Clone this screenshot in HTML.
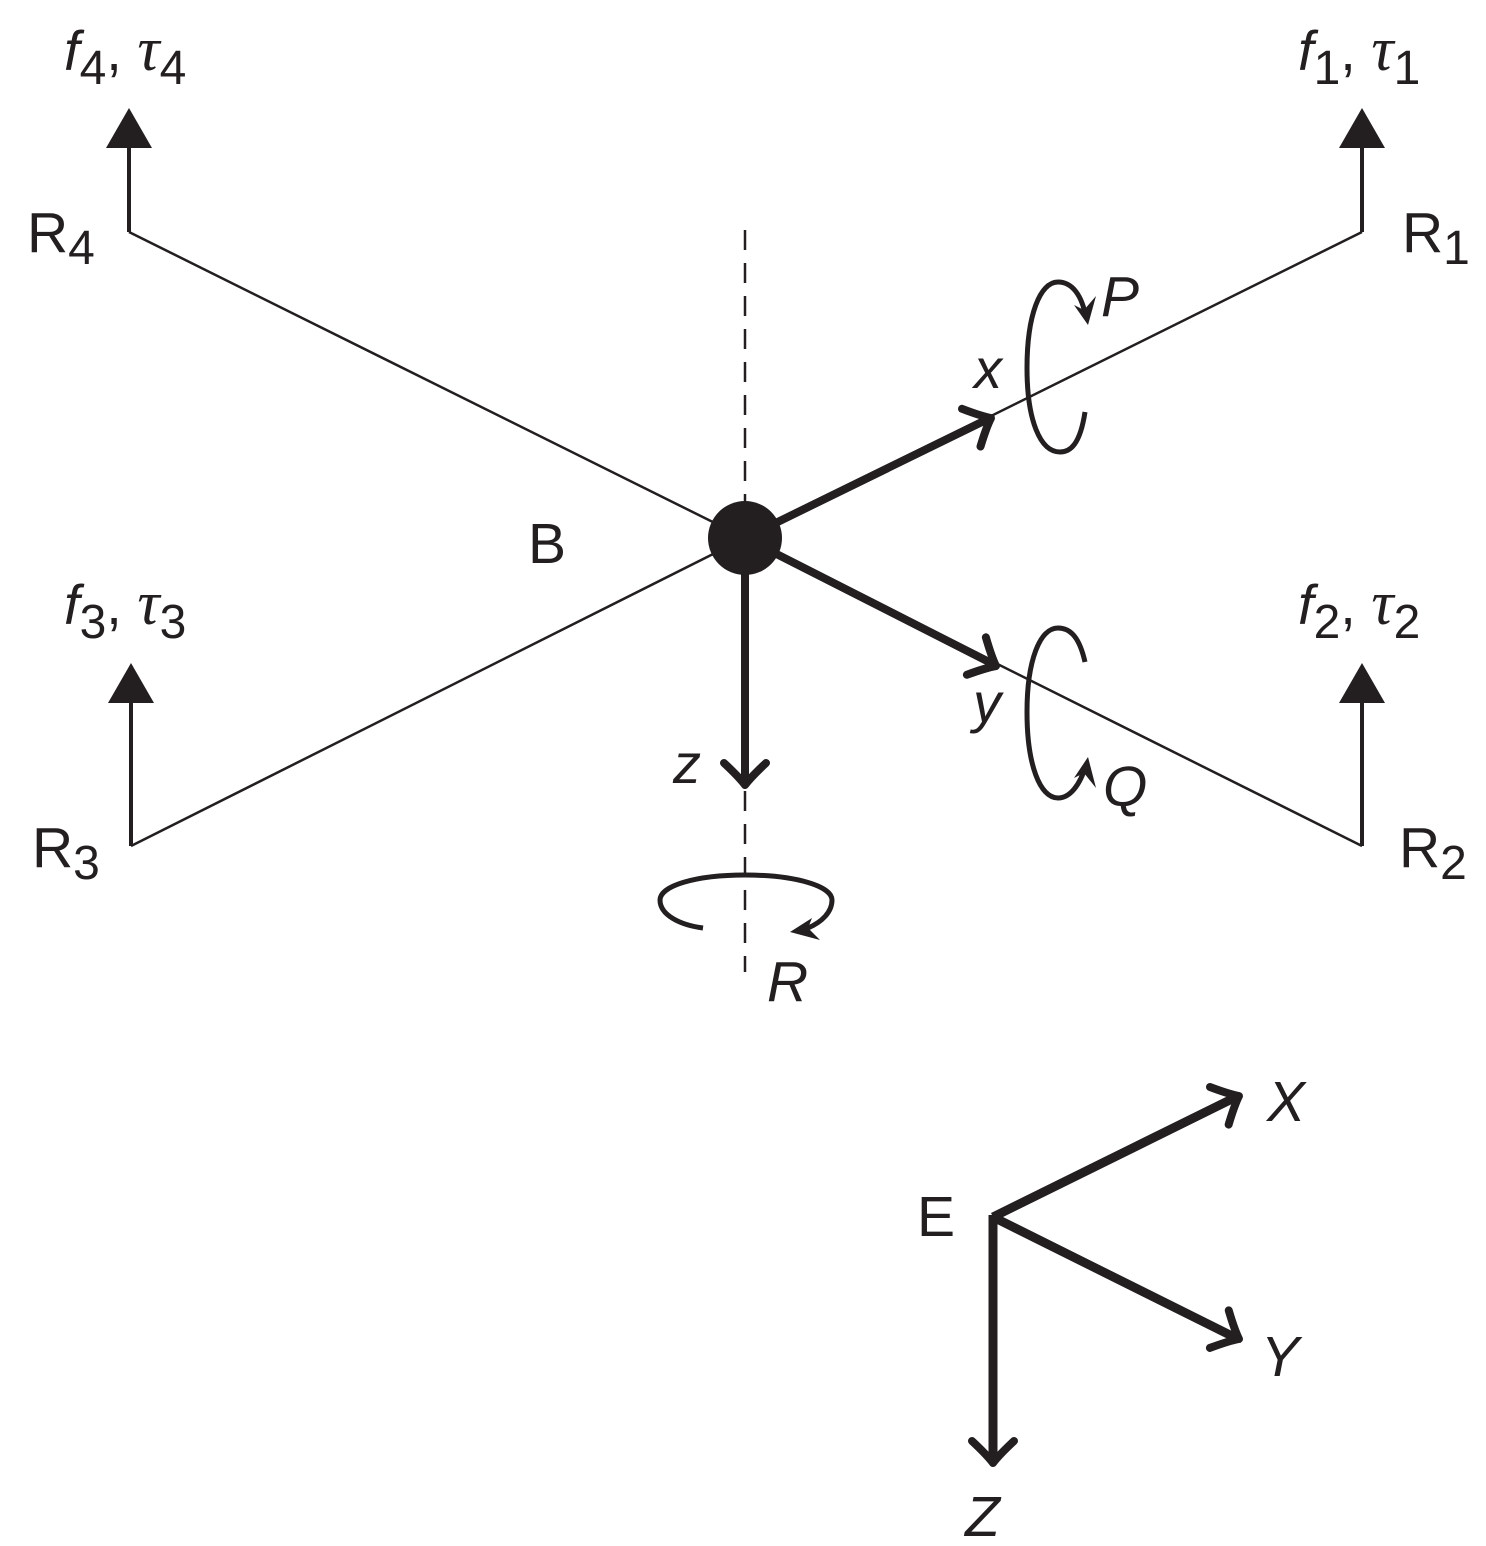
<!DOCTYPE html>
<html><head><meta charset="utf-8"><style>
html,body{margin:0;padding:0;background:#fff;}
svg{display:block;}
text{font-family:"Liberation Sans",sans-serif;fill:#231f20;}
.it{font-style:italic;}
.tau{font-family:"Liberation Serif",serif;font-style:italic;}
</style></head><body>
<svg width="1486" height="1546" viewBox="0 0 1486 1546" xmlns="http://www.w3.org/2000/svg">
<defs>
<path id="chev" d="M-22,-21 Q-8,-6 0,0 Q-8,6 -22,21" fill="none" stroke="#231f20" stroke-width="8" stroke-linecap="round" stroke-linejoin="round"/>
</defs>
<g stroke="#231f20" fill="none">
<line x1="745" y1="538" x2="129" y2="232" stroke-width="2.5"/>
<line x1="745" y1="538" x2="1362" y2="232" stroke-width="2.5"/>
<line x1="745" y1="538" x2="131" y2="846" stroke-width="2.5"/>
<line x1="745" y1="538" x2="1362" y2="846" stroke-width="2.5"/>
<line x1="129" y1="232" x2="129" y2="145" stroke-width="4"/>
<line x1="1362" y1="232" x2="1362" y2="145" stroke-width="4"/>
<line x1="131" y1="846" x2="131" y2="700" stroke-width="4"/>
<line x1="1362" y1="846" x2="1362" y2="700" stroke-width="4"/>
<line x1="745" y1="230" x2="745" y2="972" stroke-width="2.5" stroke-dasharray="20,13"/>
<line x1="745" y1="538" x2="988" y2="419" stroke-width="8"/>
<line x1="745" y1="538" x2="993" y2="664" stroke-width="8"/>
<line x1="745" y1="538" x2="745" y2="782" stroke-width="8"/>
<line x1="993" y1="1217" x2="1236" y2="1097" stroke-width="9"/>
<line x1="993" y1="1217" x2="1236" y2="1338" stroke-width="9"/>
<line x1="993" y1="1215" x2="993" y2="1460" stroke-width="9"/>
<path d="M1085,412 C1080,445 1070,452 1060,452 C1040,452 1027,420 1027,368 C1027,315 1040,282 1058,282 C1072,282 1082,295 1086,318" stroke-width="5"/>
<path d="M1085,662 C1080,640 1072,628 1058,628 C1040,628 1027,660 1027,712 C1027,765 1040,798 1058,798 C1070,798 1080,785 1086,765" stroke-width="5"/>
<path d="M703,928 C680,925 660,915 660,900 C660,886 695,875 745,875 C795,875 832,886 832,900 C832,912 822,922 808,928" stroke-width="5"/>
</g>
<polygon points="1088,325 1074,305 1084,310 1096,296" fill="#231f20"/>
<polygon points="1088,757 1074,778 1084,773 1096,788" fill="#231f20"/>
<polygon points="790,932 812,918 808,928 820,940" fill="#231f20"/>
<polygon points="129,108 106,148 152,148" fill="#231f20"/>
<polygon points="1362,108 1339,148 1385,148" fill="#231f20"/>
<polygon points="131,663 108,703 154,703" fill="#231f20"/>
<polygon points="1362,663 1339,703 1385,703" fill="#231f20"/>
<circle cx="745" cy="538" r="37" fill="#231f20"/>
<use href="#chev" transform="translate(991,418) rotate(-26.1)"/>
<use href="#chev" transform="translate(996,666) rotate(26.9)"/>
<use href="#chev" transform="translate(745,785) rotate(90)"/>
<use href="#chev" transform="translate(1239,1096) rotate(-26.4)"/>
<use href="#chev" transform="translate(1239,1339) rotate(26.6)"/>
<use href="#chev" transform="translate(993,1463) rotate(90)"/>
<text x="64" y="70" font-size="56"><tspan class="it">f</tspan><tspan font-size="48" dy="14">4</tspan><tspan dy="-14">, </tspan><tspan class="tau" font-size="62">τ</tspan><tspan font-size="48" dy="14">4</tspan></text>
<text x="1298" y="70" font-size="56"><tspan class="it">f</tspan><tspan font-size="48" dy="14">1</tspan><tspan dy="-14">, </tspan><tspan class="tau" font-size="62">τ</tspan><tspan font-size="48" dy="14">1</tspan></text>
<text x="64" y="624" font-size="56"><tspan class="it">f</tspan><tspan font-size="48" dy="14">3</tspan><tspan dy="-14">, </tspan><tspan class="tau" font-size="62">τ</tspan><tspan font-size="48" dy="14">3</tspan></text>
<text x="1298" y="624" font-size="56"><tspan class="it">f</tspan><tspan font-size="48" dy="14">2</tspan><tspan dy="-14">, </tspan><tspan class="tau" font-size="62">τ</tspan><tspan font-size="48" dy="14">2</tspan></text>
<text x="27" y="252" font-size="57">R<tspan font-size="48" dy="12">4</tspan></text>
<text x="1402" y="252" font-size="57">R<tspan font-size="48" dy="12">1</tspan></text>
<text x="32" y="867" font-size="57">R<tspan font-size="48" dy="12">3</tspan></text>
<text x="1399" y="867" font-size="57">R<tspan font-size="48" dy="12">2</tspan></text>
<text x="528" y="563" font-size="57">B</text>
<text x="974" y="388" font-size="56" class="it">x</text>
<text x="1101" y="316" font-size="57" class="it">P</text>
<text x="973" y="722" font-size="56" class="it">y</text>
<text x="1103" y="806" font-size="57" class="it">Q</text>
<text x="673" y="783" font-size="56" class="it">z</text>
<text x="767" y="1001" font-size="57" class="it">R</text>
<text x="917" y="1236" font-size="57">E</text>
<text x="1267" y="1121" font-size="57" class="it">X</text>
<text x="1261" y="1376" font-size="57" class="it">Y</text>
<text x="965" y="1536" font-size="57" class="it">Z</text>
</svg>
</body></html>
